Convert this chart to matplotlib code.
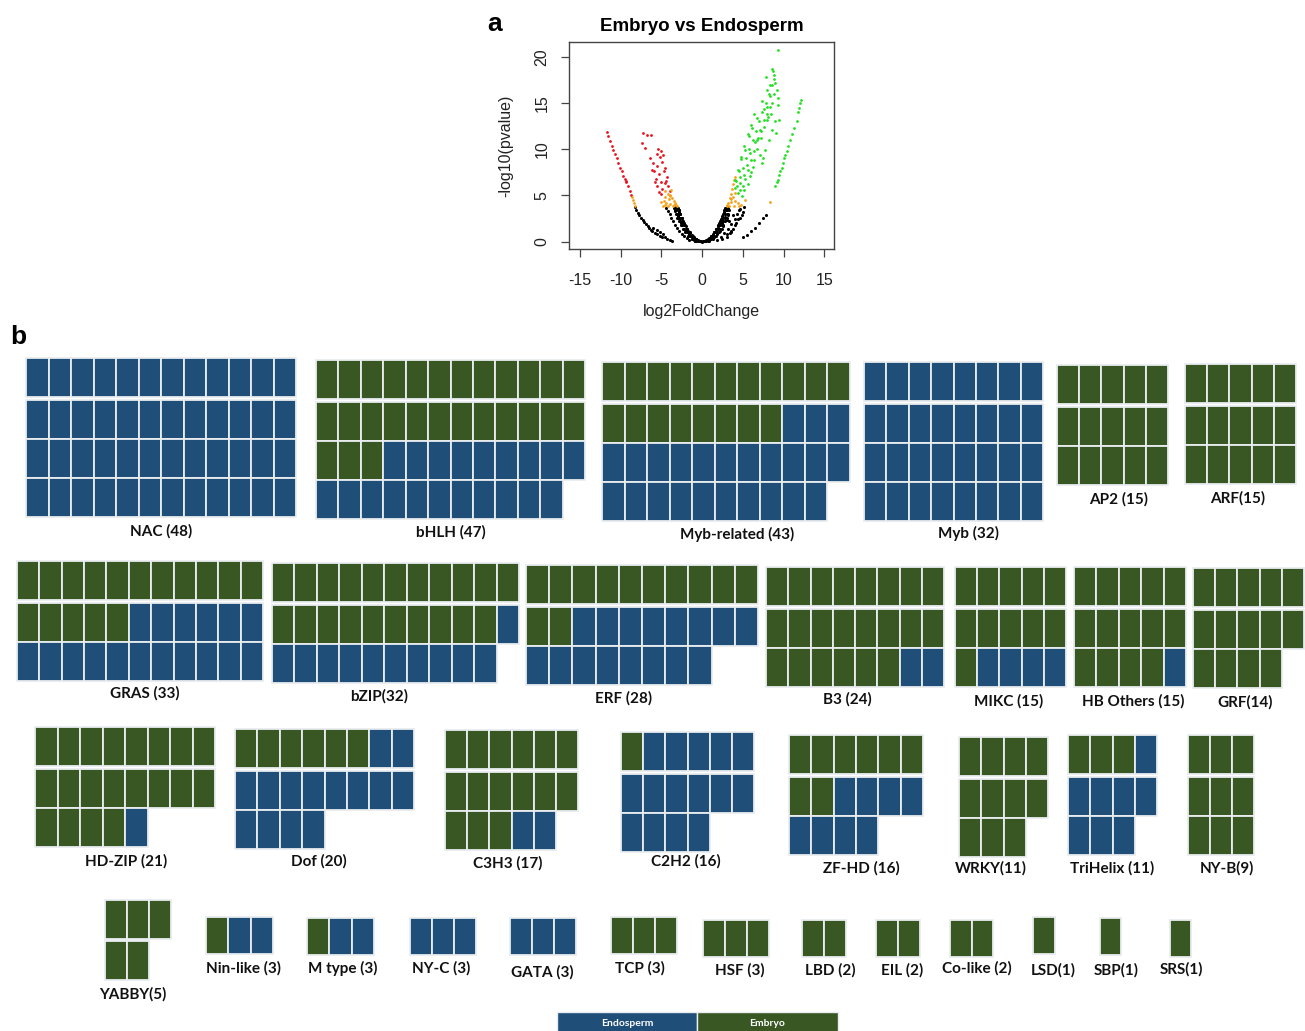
import matplotlib
matplotlib.use('Agg')
import matplotlib.pyplot as plt
from matplotlib.patches import Rectangle

plt.rcParams['axes.unicode_minus'] = False

# ---- panel a: volcano points ----
black_x = [-0.2, -0.4, -0.5, -0.7, -0.8, -1.0, -1.2, -1.3, -1.5, -1.7, -1.8, -2.0, -2.2, -2.3, -2.5, -2.7, -2.8, -2.9, -3.1, -3.2,
           -1.0, -1.5, -2.0, -2.5, -3.0, -3.3, -0.6, -1.1, -1.6, -2.1, -2.6, -3.0,
           -1.6, -1.9, -2.2, -2.5, -2.8, -3.1, -3.3, -3.6, -3.8, -4.0, -4.2, -4.4,
           -8.3, -8.1, -7.9, -7.7, -7.5, -7.3, -7.1, -6.9, -6.7, -6.5, -6.3, -6.1, -5.8, -5.5, -5.2, -4.9, -4.6, -4.3, -4.0, -3.7,
           -6.0, -5.6, -5.2, -4.8,
           0.1, 0.3, 0.5, 0.7, 0.9, 1.1, 1.3, 1.5, 1.7, 1.9, 2.1, 2.3, 2.5, 2.7, 2.9,
           1.0, 1.4, 1.8, 2.2, 2.6, 3.0, 3.2, 0.8, 1.2, 1.6, 2.0, 2.4, 2.8,
           1.8, 2.3, 2.7, 3.2, 3.6, 4.0, 4.3, 4.7, 5.2, 3.5, 4.0, 2.5, 3.0, 3.8, 4.5, 3.3,
           5.0, 5.5, 6.0, 6.5, 7.0, 7.5, 7.8,
           -0.3, 0.0, 0.2, -0.6, 0.6, -1.0, 1.0, -1.3, 1.3, -0.9, 0.4, -0.1]
black_y = [0.02, 0.08, 0.12, 0.25, 0.3, 0.45, 0.65, 0.75, 0.95, 1.2, 1.35, 1.65, 2.0, 2.15, 2.55, 2.95, 3.15, 3.4, 3.55, 3.7,
           0.3, 0.65, 1.1, 1.8, 2.6, 3.3, 0.12, 0.4, 0.8, 1.3, 2.0, 2.8,
           0.2, 0.4, 0.6, 0.85, 1.15, 1.5, 1.8, 2.25, 2.6, 2.95, 3.3, 3.6,
           3.7, 3.4, 3.1, 2.85, 2.6, 2.35, 2.1, 1.9, 1.7, 1.5, 1.3, 1.15, 0.95, 0.8, 0.65, 0.55, 0.45, 0.3, 0.2, 0.05,
           1.5, 1.25, 1.0, 0.8,
           0.02, 0.05, 0.12, 0.25, 0.4, 0.6, 0.8, 1.05, 1.35, 1.65, 2.0, 2.4, 2.8, 3.25, 3.6,
           0.25, 0.5, 0.8, 1.2, 1.7, 2.3, 2.9, 0.3, 0.6, 1.0, 1.5, 2.0, 2.7,
           0.2, 0.5, 0.9, 1.4, 1.9, 2.5, 3.0, 3.5, 3.7, 1.2, 1.8, 0.3, 0.8, 2.9, 3.4, 2.2,
           0.5, 0.75, 1.1, 1.5, 2.0, 2.6, 2.9,
           0.1, 0.0, 0.05, 0.15, 0.2, 0.2, 0.25, 0.3, 0.35, 0.05, 0.1, 0.05]

# dense body of the V
black2_x = [-0.9, -0.7, -0.5, -0.3, 0.3, 0.5, 0.7, 0.9,
            -1.3, -1.1, -0.9, -0.8, 0.8, 0.9, 1.1, 1.3,
            -1.7, -1.5, -1.3, -1.15, 1.15, 1.3, 1.5, 1.7,
            -2.1, -1.9, -1.7, -1.5, 1.45, 1.65, 1.85, 2.05,
            -2.4, -2.2, -2.0, -1.8, 1.75, 1.95, 2.15, 2.4,
            -2.65, -2.45, -2.25, -2.05, 2.0, 2.2, 2.4, 2.6,
            -2.9, -2.7, -2.5, -2.3, 2.2, 2.4, 2.6, 2.85,
            -3.1, -2.9, -2.7, -2.5, 2.4, 2.6, 2.8, 3.0,
            -3.25, -3.05, -2.85, -2.7, 2.6, 2.8, 3.0, 3.15,
            -3.35, -3.2, -3.0, -2.85, 2.75, 2.95, 3.1, 3.25,
            -3.4, -3.2, -3.0, 2.85, 3.05, 3.2,
            3.4, 3.8, 4.2, 4.6, 5.0, 3.0, 4.4, 3.6, 4.9]
black2_y = [0.1, 0.1, 0.1, 0.1, 0.1, 0.1, 0.1, 0.1,
            0.3, 0.3, 0.3, 0.3, 0.3, 0.3, 0.3, 0.3,
            0.6, 0.6, 0.6, 0.6, 0.6, 0.6, 0.6, 0.6,
            1.0, 1.0, 1.0, 1.0, 1.0, 1.0, 1.0, 1.0,
            1.4, 1.4, 1.4, 1.4, 1.4, 1.4, 1.4, 1.4,
            1.8, 1.8, 1.8, 1.8, 1.8, 1.8, 1.8, 1.8,
            2.2, 2.2, 2.2, 2.2, 2.2, 2.2, 2.2, 2.2,
            2.6, 2.6, 2.6, 2.6, 2.6, 2.6, 2.6, 2.6,
            3.0, 3.0, 3.0, 3.0, 3.0, 3.0, 3.0, 3.0,
            3.4, 3.4, 3.4, 3.4, 3.4, 3.4, 3.4, 3.4,
            3.65, 3.65, 3.65, 3.65, 3.65, 3.65,
            0.9, 1.4, 2.0, 2.6, 3.2, 0.5, 2.4, 1.0, 2.9]

red_x = [-11.7, -11.5, -11.3, -11.1, -10.9, -10.7, -10.5, -10.3, -10.1, -9.9, -9.7, -9.5, -9.4, -9.3, -9.1, -8.9, -8.7,
         -7.2, -6.8, -6.3, -7.4, -7.0, -5.4, -5.0, -4.8, -5.2, -5.6, -6.0, -5.5, -4.9, -4.5, -5.9, -5.3, -4.7,
         -4.3, -5.7, -5.1, -4.6, -4.2, -5.5, -4.9, -5.3, -4.0, -6.4, -6.2, -5.8, -4.4, -5.0]
red_y = [11.9, 11.4, 10.9, 10.4, 9.9, 9.5, 9.0, 8.5, 8.0, 7.6, 7.1, 6.8, 6.6, 6.4, 6.0, 5.5, 5.0,
         11.8, 11.5, 11.5, 10.7, 10.1, 10.0, 9.8, 9.4, 9.2, 9.5, 8.5, 8.2, 8.6, 8.0, 7.6, 7.3, 7.6,
         7.0, 6.8, 6.5, 6.3, 6.0, 6.0, 5.7, 5.4, 5.5, 9.0, 7.8, 6.4, 6.6, 5.2]

orange_x = [-8.6, -8.5, -8.4, -8.3,
            -4.5, -4.2, -3.9, -4.6, -4.1, -3.7, -3.4, -4.4, -3.9, -3.5, -3.1, -4.7, -4.8, -4.2, -3.6, -3.3, -4.5, -5.0,
            -3.8, -4.0, -3.2,
            3.0, 3.2, 3.4, 3.5, 3.7, 3.8, 3.9, 4.0, 3.3, 3.6, 3.8, 4.0, 4.1, 4.4, 4.8, 3.9, 4.5, 5.3, 8.3, 3.1, 3.5]
orange_y = [4.8, 4.5, 4.2, 3.9,
            5.5, 5.2, 5.0, 4.8, 4.6, 4.7, 4.4, 4.2, 4.1, 4.0, 3.9, 4.4, 3.9, 3.8, 3.8, 4.2, 4.0, 4.3,
            5.6, 4.9, 4.0,
            3.8, 4.2, 4.7, 5.2, 5.7, 6.2, 6.7, 7.0, 3.9, 4.3, 4.8, 5.3, 4.4, 4.2, 4.0, 3.8, 3.9, 4.5, 4.3, 4.0, 4.6]

green_x = [9.27, 8.6, 8.86, 7.8, 8.4, 7.96, 9.2, 7.3, 8.6, 9.35, 7.6, 8.1, 6.7, 7.95, 6.1, 7.1, 8.6, 5.7, 6.9, 8.2,
           5.3, 5.9, 7.1, 7.7, 4.8, 5.5, 6.3, 7.3, 4.5, 5.1, 5.9, 4.7, 4.1, 5.1, 4.4, 4.9,
           4.3, 4.6, 5.0, 5.4, 5.8, 6.2, 6.6, 7.0, 7.4, 7.8, 8.2, 8.6, 5.6, 6.0, 6.4, 6.8, 7.2, 7.6, 8.0, 8.4, 8.8, 9.0,
           4.0, 4.2, 4.6, 5.0, 5.3, 5.6, 6.0, 6.4, 6.8, 7.2, 7.6, 8.0, 8.4, 8.8, 4.4, 4.8, 5.2, 5.6, 6.0, 6.4,
           9.1, 8.9, 9.3, 9.4, 8.7, 8.5, 6.5, 7.5,
           12.2, 11.9, 11.6, 11.0, 10.6, 10.2, 9.9, 9.6, 9.3, 9.0, 9.2, 9.5, 9.8, 10.0, 10.4, 10.8, 11.3, 11.8, 12.0]
green_y = [20.7, 18.7, 17.6, 17.8, 17.0, 16.4, 16.4, 15.2, 15.0, 14.8, 14.3, 13.5, 13.4, 13.2, 12.3, 12.1, 12.1, 11.4, 11.2, 11.0,
           9.9, 9.6, 9.4, 9.9, 8.9, 8.3, 8.1, 8.5, 7.6, 7.2, 7.1, 6.3, 6.7, 5.6, 5.3, 4.9,
           6.0, 7.0, 8.0, 9.0, 10.0, 11.0, 12.0, 13.0, 14.0, 15.0, 16.0, 17.0, 6.2, 7.5, 8.8, 10.0, 11.2, 12.4, 13.8, 14.6, 16.0, 17.2,
           5.8, 6.6, 5.6, 6.0, 6.8, 7.8, 8.8, 9.8, 11.0, 12.0, 13.2, 14.6, 15.8, 18.0, 7.8, 9.2, 10.4, 11.6, 12.6, 13.8,
           11.8, 13.0, 15.5, 13.2, 18.5, 13.8, 10.8, 9.0,
           15.3, 14.5, 13.0, 11.6, 10.3, 9.4, 8.5, 7.6, 6.7, 6.0, 6.4, 7.2, 8.0, 9.0, 9.8, 11.0, 12.3, 14.0, 15.0]

# ---- panel b: TF families ----
fam_labels = ['NAC (48)', 'bHLH (47)', 'Myb-related (43)', 'Myb (32)', 'AP2 (15)', 'ARF(15)',
              'GRAS (33)', 'bZIP(32)', 'ERF (28)', 'B3 (24)', 'MIKC (15)', 'HB Others (15)', 'GRF(14)',
              'HD-ZIP (21)', 'Dof (20)', 'C3H3 (17)', 'C2H2 (16)', 'ZF-HD (16)', 'WRKY(11)', 'TriHelix (11)', 'NY-B(9)',
              'YABBY(5)', 'Nin-like (3)', 'M type (3)', 'NY-C (3)', 'GATA (3)', 'TCP (3)', 'HSF (3)', 'LBD (2)',
              'EIL (2)', 'Co-like (2)', 'LSD(1)', 'SBP(1)', 'SRS(1)']
fam_embryo = [0, 27, 19, 0, 15, 15,
              16, 21, 12, 22, 11, 14, 14,
              20, 6, 15, 1, 8, 11, 3, 9,
              5, 1, 1, 0, 0, 3, 3, 2, 2, 2, 1, 1, 1]
fam_endosperm = [48, 20, 24, 32, 0, 0,
                 17, 11, 16, 2, 4, 1, 0,
                 1, 14, 2, 15, 8, 0, 8, 0,
                 0, 2, 2, 3, 3, 0, 0, 0, 0, 0, 0, 0, 0]
fam_ncols = [12, 12, 11, 8, 5, 5,
             11, 11, 10, 8, 5, 5, 5,
             8, 8, 6, 6, 6, 4, 4, 3,
             3, 3, 3, 3, 3, 3, 3, 2, 2, 2, 1, 1, 1]

# layout in figure pixels: box top-left, box width, label centre
box_xy = [(26, 358), (316, 360), (602, 362), (864, 362), (1057, 365), (1185, 364),
          (17, 561), (272, 563), (526, 565), (766, 567), (955, 567), (1074, 567), (1193, 568),
          (35, 727), (235, 729), (445, 730), (621, 732), (789, 735), (959, 737), (1068, 735), (1188, 735),
          (105, 900), (206, 917), (307, 918), (410, 918), (510, 918), (611, 917), (703, 920), (802, 920),
          (876, 920), (950, 920), (1033, 917), (1100, 918), (1170, 920)]
box_w = [270, 269, 248, 179, 111, 111,
         246, 247, 232, 178, 111, 112, 111,
         180, 179, 133, 133, 134, 89, 89, 66,
         66, 67, 67, 66, 66, 66, 66, 44, 44, 43, 22, 21, 21]
label_xy = [(161, 531), (451, 532), (737, 534), (969, 533), (1119, 499), (1238, 498),
            (145, 693), (379, 696), (624, 698), (847, 699), (1009, 701), (1133, 701), (1245, 702),
            (126, 861), (319, 861), (508, 863), (686, 861), (861, 868), (991, 868), (1112, 868), (1227, 868),
            (133, 994), (244, 968), (343, 968), (441, 968), (542, 972), (640, 968), (740, 970), (830, 970),
            (902, 970), (977, 968), (1053, 970), (1116, 970), (1181, 969)]

BLUE = '#1f4e79'
GREEN = '#385723'
H = 39.0

fig = plt.figure(figsize=(13.05, 10.31), dpi=100)
bg = fig.add_axes([0, 0, 1, 1])
bg.set_xlim(0, 1305)
bg.set_ylim(1031, 0)
bg.axis('off')

for i in range(len(fam_labels)):
    x0, y0 = box_xy[i]
    w = box_w[i] / fam_ncols[i]
    h = H if i < 21 else (38.5 if i == 21 else 37)
    colors = [GREEN] * fam_embryo[i] + [BLUE] * fam_endosperm[i]
    for k, c in enumerate(colors):
        r = k // fam_ncols[i]
        col = k % fam_ncols[i]
        yy = y0 + r * h + (2.5 if r > 0 else 0)
        bg.add_patch(Rectangle((x0 + col * w, yy), w, h, facecolor=c,
                               edgecolor='#e9edf0', linewidth=1.3))
    lx, ly = label_xy[i]
    bg.text(lx, ly, fam_labels[i], ha='center', va='center', fontsize=11,
            fontweight='bold', family='Lato', color='#111111')

# legend strip
bg.add_patch(Rectangle((557, 1012), 140, 25, facecolor=BLUE, edgecolor='#e9edf0', linewidth=1))
bg.add_patch(Rectangle((697, 1012), 141, 25, facecolor=GREEN, edgecolor='#e9edf0', linewidth=1))
bg.text(627, 1023, 'Endosperm', ha='center', va='center', fontsize=7.5, fontweight='bold',
        family='Lato', color='white')
bg.text(767, 1023, 'Embryo', ha='center', va='center', fontsize=7.5, fontweight='bold',
        family='Lato', color='white')

bg.text(495, 24, 'a', ha='center', va='center', fontsize=19, fontweight='bold', family='Liberation Sans')
bg.text(18, 337, 'b', ha='center', va='center', fontsize=19, fontweight='bold', family='Liberation Sans')

# ---- volcano ----
ax = fig.add_axes([569 / 1305, 1 - 249 / 1031, 265 / 1305, 207 / 1031])
ax.scatter(black_x, black_y, s=5, c='black', linewidths=0)
ax.scatter(black2_x, black2_y, s=5, c='black', linewidths=0)
ax.scatter(red_x, red_y, s=4, c='#e8121c', linewidths=0)
ax.scatter(orange_x, orange_y, s=4, c='#f5a21b', linewidths=0)
ax.scatter(green_x, green_y, s=4, c='#22e022', linewidths=0)
ax.set_xlim(-16.35, 16.2)
ax.set_ylim(-0.8, 21.6)
ax.set_xticks([-15, -10, -5, 0, 5, 10, 15])
ax.set_yticks([0, 5, 10, 15, 20])
for sp in ax.spines.values():
    sp.set_color('#444444')
    sp.set_linewidth(1)
ax.tick_params(direction='out', length=6, width=0.9, color='#444444', labelsize=11.5)
ax.tick_params(axis='x', pad=11)
ax.tick_params(axis='y', pad=8)
for lab in ax.get_xticklabels() + ax.get_yticklabels():
    lab.set_family('Liberation Sans')
    lab.set_color('#222222')
plt.setp(ax.get_yticklabels(), rotation=90, va='center')
ax.set_xlabel('log2FoldChange', fontsize=11.5, family='Liberation Sans', color='#222222', labelpad=12)
ax.set_ylabel('-log10(pvalue)', fontsize=11.5, family='Liberation Sans', color='#222222', labelpad=15)
ax.set_title('Embryo vs Endosperm', fontsize=13.5, fontweight='bold', family='Liberation Sans', pad=8)

fig.savefig('out.png', dpi=100)
